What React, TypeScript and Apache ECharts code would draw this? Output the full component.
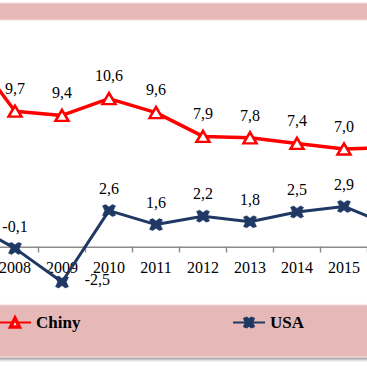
import React, { useEffect, useRef } from "react";
import * as echarts from "echarts";

const years = ["2007", "2008", "2009", "2010", "2011", "2012", "2013", "2014", "2015", "2016"];
const chinaValues = [14.2, 9.7, 9.4, 10.6, 9.6, 7.9, 7.8, 7.4, 7.0, 7.1];
const usaValues = [1.8, -0.1, -2.5, 2.6, 1.6, 2.2, 1.8, 2.5, 2.9, 1.5];
const seriesNames = ["Chiny", "USA"];

const SERIF = "'Liberation Serif', 'Times New Roman', serif";
const RED = "#FF0000";
const NAVY = "#1F3864";
const PINK = "#E6B9B8";
const AXIS_GRAY = "#8C8C8C";
const X_SYMBOL = "path://M0,1 L3,0 L6,2 L9,0 L12,1 L10,5 L12,9 L9,10 L6,8 L3,10 L0,9 L2,5 Z";
const SHIFT = 60;
const W = 367 + SHIFT * 2;

const fmt = (p: any) => {
  const v = Array.isArray(p.value) ? p.value[1] : p.value;
  return Number(v).toFixed(1).replace(".", ",");
};

export default function App() {
  const ref = useRef<HTMLDivElement>(null);
  useEffect(() => {
    if (!ref.current) return;
    const chart = echarts.init(ref.current, undefined, { renderer: "svg" });
    const usaData = usaValues.map((v, i) =>
      i === 2
        ? { value: v, label: { position: "right", distance: 16, offset: [0, -3] } }
        : v
    );
    const legendText = { fontFamily: SERIF, fontSize: 17, fontWeight: "bold", color: "#000" };
    const bands = [
      {
        type: "rect",
        z: -10,
        shape: { x: SHIFT - 2, y: 3, width: 372, height: 17 },
        style: { fill: PINK, stroke: "#F2DCDB", lineWidth: 1 },
      },
      {
        type: "rect",
        z: -10,
        shape: { x: SHIFT - 2, y: 305, width: 372, height: 52 },
        style: {
          fill: PINK,
          stroke: "#F2DCDB",
          lineWidth: 1,
          shadowBlur: 3,
          shadowOffsetY: 2,
          shadowColor: "rgba(0,0,0,0.45)",
        },
      },
    ];
    chart.setOption({
      animation: false,
      backgroundColor: "#FFFFFF",
      graphic: bands,
      legend: [
        {
          data: [seriesNames[0]],
          left: SHIFT - 2,
          top: 314,
          padding: 0,
          itemWidth: 32,
          itemHeight: 11,
          itemStyle: { borderWidth: 3.5 },
          textStyle: legendText,
        },
        {
          data: [seriesNames[1]],
          left: SHIFT + 232,
          top: 314,
          padding: 0,
          itemWidth: 32,
          itemHeight: 12,
          textStyle: legendText,
        },
      ],
      grid: {
        left: SHIFT - 55.5,
        right: SHIFT - 47.5,
        top: 23,
        bottom: 50,
        containLabel: false,
        outerBoundsMode: "none",
      },
      xAxis: {
        type: "category",
        data: years,
        boundaryGap: true,
        offset: -70,
        axisLine: { show: false, onZero: false },
        axisTick: { show: false },
        axisLabel: { interval: 0, fontFamily: SERIF, fontSize: 16, color: "#000", margin: 12 },
      },
      yAxis: {
        type: "value",
        min: -5,
        max: 16,
        show: false,
        splitLine: { show: false },
      },
      series: [
        {
          name: seriesNames[0],
          type: "line",
          data: chinaValues,
          color: RED,
          lineStyle: { color: RED, width: 3.5 },
          symbol: "triangle",
          symbolSize: [13, 11],
          itemStyle: { color: "#FFFFFF", borderColor: RED, borderWidth: 2.5 },
          label: {
            show: true,
            position: "top",
            distance: 8,
            fontFamily: SERIF,
            fontSize: 16,
            color: "#000",
            formatter: fmt,
          },
          z: 3,
        },
        {
          name: seriesNames[1],
          type: "line",
          data: usaData,
          color: NAVY,
          lineStyle: { color: NAVY, width: 3 },
          symbol: X_SYMBOL,
          symbolSize: [13, 12],
          itemStyle: { color: NAVY, borderColor: NAVY, borderWidth: 0.5 },
          label: {
            show: true,
            position: "top",
            distance: 8,
            fontFamily: SERIF,
            fontSize: 16,
            color: "#000",
            formatter: fmt,
          },
          z: 3,
        },
      ],
    });

    // Zero axis line and category-boundary ticks, placed through the chart's own scales.
    const y0 = chart.convertToPixel({ yAxisIndex: 0 }, 0) as number;
    const centers = years.map((_, i) => chart.convertToPixel({ xAxisIndex: 0 }, i) as number);
    const step = centers.length > 1 ? centers[1] - centers[0] : 47;
    const xStart = centers[0] - step / 2;
    const xEnd = centers[centers.length - 1] + step / 2;
    const axisParts: any[] = [
      {
        type: "rect",
        z: 1,
        silent: true,
        shape: { x: xStart, y: Math.round(y0) - 0.5, width: xEnd - xStart, height: 1.4 },
        style: { fill: AXIS_GRAY },
      },
    ];
    for (let i = 0; i <= centers.length; i++) {
      const bx = xStart + i * step;
      axisParts.push({
        type: "rect",
        z: 1,
        silent: true,
        shape: { x: bx - 0.7, y: Math.round(y0) - 0.5, width: 1.4, height: 6 },
        style: { fill: AXIS_GRAY },
      });
    }
    chart.setOption({ graphic: [...bands, ...axisParts] }, { replaceMerge: ["graphic"] });

    return () => chart.dispose();
  }, []);
  return (
    <div style={{ position: "fixed", left: 0, top: 0, width: 367, height: 367, overflow: "hidden" }}>
      <div ref={ref} style={{ position: "absolute", left: -SHIFT, top: 0, width: W, height: 367 }} />
    </div>
  );
}
